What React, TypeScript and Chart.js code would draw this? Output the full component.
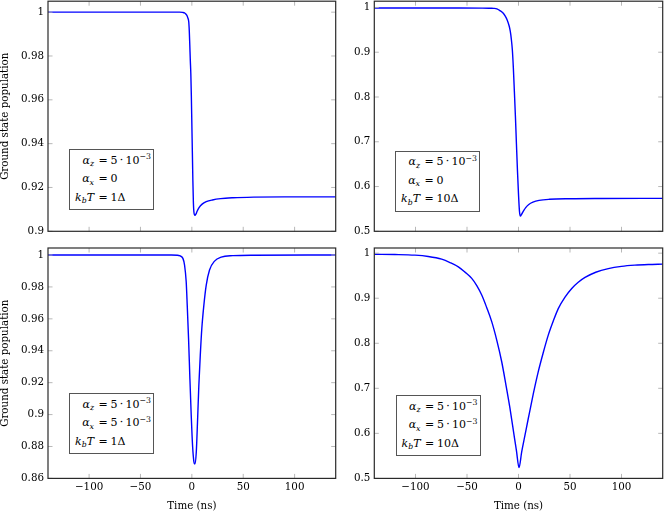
import React, { useEffect, useRef } from "react";
import { Chart, registerables } from "chart.js";

Chart.register(...registerables);

const SERIF = '"DejaVu Serif", "Liberation Serif", "Noto Serif", serif';
const FS = 10.3;

// ---------- data (time in ns, ground state population) ----------
const xTickValues = [-100, -50, 0, 50, 100];

const timeTL = [-140, -60, -20, -12, -9, -7, -5, -4, -3, -2.5, -2, -1.5, -1, -0.5, 0, 0.5, 1, 1.5, 2, 3, 4, 5, 7, 10, 14, 20, 28, 40, 60, 90, 140];
const popTL = [1, 1, 1, 1, 0.9999, 0.9996, 0.9986, 0.9975, 0.9955, 0.9915, 0.985, 0.978, 0.972, 0.962, 0.949, 0.936, 0.923, 0.913, 0.9088, 0.9073, 0.9079, 0.909, 0.9108, 0.9124, 0.9135, 0.9143, 0.9149, 0.9153, 0.9156, 0.9157, 0.9157];
const yTicksTL = [0.9, 0.92, 0.94, 0.96, 0.98, 1];

const timeTR = [-140, -60, -35, -27, -24, -21, -18, -15, -13, -11, -9, -8, -7, -6, -5, -4, -3, -2, -1, 0, 1, 1.8, 3, 5, 7, 10, 14, 20, 30, 50, 80, 140];
const popTR = [0.9988, 0.9988, 0.9986, 0.9982, 0.998, 0.997, 0.993, 0.9875, 0.981, 0.972, 0.958, 0.947, 0.93, 0.906, 0.865, 0.812, 0.757, 0.695, 0.635, 0.583, 0.543, 0.534, 0.538, 0.546, 0.553, 0.56, 0.565, 0.569, 0.5715, 0.5728, 0.5733, 0.5735];
const yTicksTR = [0.5, 0.6, 0.7, 0.8, 0.9, 1];

const timeBL = [-140, -40, -20, -14, -12, -8.7, -7.1, -5.5, -4.5, -3.2, -1.9, -0.6, 0.7, 2.0, 2.9, 4.3, 5.5, 6.8, 8.2, 9.7, 11.7, 14, 17.2, 22.1, 28.6, 40, 60, 140];
const popBL = [1, 1, 1, 0.9999, 0.9996, 0.9979, 0.9937, 0.9832, 0.9686, 0.9476, 0.9225, 0.8994, 0.8805, 0.8704, 0.869, 0.8763, 0.8952, 0.9182, 0.9371, 0.9539, 0.9686, 0.9811, 0.9906, 0.9962, 0.9987, 0.9996, 0.9999, 1];
const yTicksBL = [0.86, 0.88, 0.9, 0.92, 0.94, 0.96, 0.98, 1];

const timeBR = [-140, -120, -100.5, -87.6, -74.6, -66.5, -58.4, -52, -45.4, -40.5, -35.7, -31, -26, -21, -16.3, -12.3, -8.3, -4, -2, 0.5, 3.1, 6.3, 9.5, 14.3, 19.2, 24, 28.9, 33.7, 38.6, 45, 51.7, 58, 64.6, 75, 87.2, 100, 113, 126, 140];
const popBR = [0.9975, 0.997, 0.9956, 0.9927, 0.9867, 0.9792, 0.9696, 0.958, 0.944, 0.928, 0.907, 0.88, 0.848, 0.806, 0.759, 0.709, 0.656, 0.591, 0.5615, 0.524, 0.559, 0.596, 0.633, 0.687, 0.737, 0.779, 0.818, 0.849, 0.877, 0.902, 0.9216, 0.9354, 0.9461, 0.9577, 0.9658, 0.9707, 0.9734, 0.9749, 0.9758];
const yTicksBR = [0.5, 0.6, 0.7, 0.8, 0.9, 1];

// annotation parameters per panel: [TL, TR, BL, BR]
const alphaZBase = ["5\u2009·\u200910", "5\u2009·\u200910", "5\u2009·\u200910", "5\u2009·\u200910"];
const alphaZExp = ["−3", "−3", "−3", "−3"];
const alphaXBase = ["0", "0", "5\u2009·\u200910", "5\u2009·\u200910"];
const alphaXExp = ["", "", "−3", "−3"];
const tempLabels = ["1Δ", "10Δ", "1Δ", "10Δ"];

const xTitle = "Time (ns)";
const yTitle = "Ground state population";

// ---------- drawing helpers ----------
const framePlugin = {
  id: "pgfFrame",
  afterDraw(chart: any) {
    const { ctx, chartArea, scales } = chart;
    const { left, right, top, bottom } = chartArea;
    const len = 4.5;
    ctx.save();
    ctx.strokeStyle = "#b0b0b0";
    ctx.lineWidth = 0.9;
    ctx.beginPath();
    for (const t of scales.x.ticks) {
      const p = scales.x.getPixelForValue(t.value);
      ctx.moveTo(p, bottom);
      ctx.lineTo(p, bottom - len);
      ctx.moveTo(p, top);
      ctx.lineTo(p, top + len);
    }
    for (const t of scales.y.ticks) {
      const p = scales.y.getPixelForValue(t.value);
      ctx.moveTo(left, p);
      ctx.lineTo(left + len, p);
      ctx.moveTo(right, p);
      ctx.lineTo(right - len, p);
    }
    ctx.stroke();
    ctx.strokeStyle = "#2a2a2a";
    ctx.lineWidth = 1.2;
    ctx.strokeRect(left, top, right - left, bottom - top);
    ctx.restore();
  },
};

type Box = { left: number; top: number; width: number; height: number };
type Frame = { left: number; top: number; right: number; bottom: number };

function Panel(props: {
  times: number[];
  pops: number[];
  yTicks: number[];
  yMin: number;
  yMax: number;
  region: Box;
  frame: Frame;
  xLabels: boolean;
  showYTitle: boolean;
}) {
  const ref = useRef<HTMLCanvasElement>(null);
  const { times, pops, yTicks, yMin, yMax, region, frame, xLabels, showYTitle } = props;
  useEffect(() => {
    const padTop = frame.top - region.top;
    const padRight = region.left + region.width - frame.right;
    const yWidth = frame.left - region.left;
    const xHeight = region.top + region.height - frame.bottom;
    const font = { family: SERIF, size: FS };
    const chart = new Chart(ref.current as HTMLCanvasElement, {
      type: "line",
      data: {
        datasets: [
          {
            data: times.map((t, i) => ({ x: t, y: pops[i] })),
            borderColor: "#0000ff",
            borderWidth: 1.4,
            pointRadius: 0,
            cubicInterpolationMode: "monotone",
            fill: false,
          } as any,
        ],
      },
      options: {
        responsive: false,
        animation: false,
        devicePixelRatio: 1,
        events: [],
        layout: { padding: { top: padTop, right: padRight, bottom: 0, left: 0 } },
        plugins: { legend: { display: false }, tooltip: { enabled: false } },
        scales: {
          x: {
            type: "linear",
            min: -140,
            max: 140,
            grid: { display: false, drawTicks: false },
            border: { display: false },
            ticks: {
              display: xLabels,
              autoSkip: false,
              maxRotation: 0,
              padding: 3,
              color: "#000",
              font,
              callback: (v: any) => String(v).replace("-", "−"),
            },
            title: {
              display: xLabels,
              text: xTitle,
              color: "#000",
              font: { family: SERIF, size: FS, lineHeight: 1 },
              padding: { top: 0, bottom: 1.5 },
            },
            afterBuildTicks: (s: any) => {
              s.ticks = xTickValues.map((v) => ({ value: v }));
            },
            afterFit: (s: any) => {
              s.height = xHeight;
              s.paddingLeft = 0;
              s.paddingRight = 0;
              s.paddingTop = 0;
              s.paddingBottom = 0;
            },
          },
          y: {
            type: "linear",
            min: yMin,
            max: yMax,
            grid: { display: false, drawTicks: false },
            border: { display: false },
            ticks: {
              autoSkip: false,
              padding: 4,
              color: "#000",
              font,
              callback: (v: any) => String(Number(v)),
            },
            title: {
              display: showYTitle,
              text: yTitle,
              color: "#000",
              font: { family: SERIF, size: FS, lineHeight: 1 },
              padding: { top: 0, bottom: 0 },
            },
            afterBuildTicks: (s: any) => {
              s.ticks = yTicks.map((v) => ({ value: v }));
            },
            afterFit: (s: any) => {
              s.width = yWidth;
              s.paddingLeft = 0;
              s.paddingRight = 0;
              s.paddingTop = 0;
              s.paddingBottom = 0;
            },
          },
        },
      } as any,
      plugins: [framePlugin],
    });
    return () => chart.destroy();
  }, []);
  return (
    <canvas
      ref={ref}
      width={region.width}
      height={region.height}
      style={{ position: "absolute", left: region.left, top: region.top, width: region.width, height: region.height }}
    />
  );
}

const subStyle: React.CSSProperties = { fontSize: 7.8, fontStyle: "italic", position: "relative", top: 2.5 };
const supStyle: React.CSSProperties = { fontSize: 7.8, position: "relative", top: -4.5 };

function Value({ base, exp }: { base: string; exp: string }) {
  return (
    <>
      {base}
      {exp ? <span style={supStyle}>{exp}</span> : null}
    </>
  );
}

function InfoBox({ left, top, idx }: { left: number; top: number; idx: number }) {
  const W = 85;
  const H = 61;
  const rowCenters = [11.5, 30, 48.5];
  const rows = [
    {
      lhs: (
        <>
          <i>α</i>
          <span style={subStyle}>z</span>
        </>
      ),
      rhs: <Value base={alphaZBase[idx]} exp={alphaZExp[idx]} />,
    },
    {
      lhs: (
        <>
          <i>α</i>
          <span style={subStyle}>x</span>
        </>
      ),
      rhs: <Value base={alphaXBase[idx]} exp={alphaXExp[idx]} />,
    },
    {
      lhs: (
        <>
          <i>k</i>
          <span style={subStyle}>b</span>
          <i>T</i>
        </>
      ),
      rhs: <>{tempLabels[idx]}</>,
    },
  ];
  return (
    <div
      style={{
        position: "absolute",
        left,
        top,
        width: W,
        height: H,
        boxSizing: "border-box",
        border: "1px solid #555",
        background: "#fff",
        fontFamily: SERIF,
        fontSize: 11,
        color: "#000",
      }}
    >
      {rows.map((r, i) => (
        <div
          key={i}
          style={{ position: "absolute", left: 0, top: rowCenters[i] - 10, width: W - 2, height: 18, lineHeight: "18px", whiteSpace: "nowrap" }}
        >
          <span style={{ position: "absolute", right: W - 2 - 24, top: 0 }}>{r.lhs}</span>
          <span style={{ position: "absolute", left: 28.5, top: 0 }}>=</span>
          <span style={{ position: "absolute", left: 40.5, top: 0 }}>{r.rhs}</span>
        </div>
      ))}
    </div>
  );
}

export default function App() {
  return (
    <div style={{ position: "absolute", left: 0, top: 0, width: 664, height: 513, background: "#fff", overflow: "hidden" }}>
      <Panel
        times={timeTL}
        pops={popTL}
        yTicks={yTicksTL}
        yMin={0.9}
        yMax={1.005}
        region={{ left: 0, top: 0, width: 340, height: 240 }}
        frame={{ left: 48, top: 1.2, right: 335.7, bottom: 231.3 }}
        xLabels={false}
        showYTitle={true}
      />
      <Panel
        times={timeTR}
        pops={popTR}
        yTicks={yTicksTR}
        yMin={0.5}
        yMax={1.014}
        region={{ left: 340, top: 0, width: 324, height: 240 }}
        frame={{ left: 374.3, top: 1.2, right: 662.7, bottom: 231.3 }}
        xLabels={false}
        showYTitle={false}
      />
      <Panel
        times={timeBL}
        pops={popBL}
        yTicks={yTicksBL}
        yMin={0.86}
        yMax={1.0044}
        region={{ left: 0, top: 240, width: 340, height: 273 }}
        frame={{ left: 48, top: 248, right: 335.7, bottom: 478.4 }}
        xLabels={true}
        showYTitle={true}
      />
      <Panel
        times={timeBR}
        pops={popBR}
        yTicks={yTicksBR}
        yMin={0.5}
        yMax={1.0115}
        region={{ left: 340, top: 240, width: 324, height: 273 }}
        frame={{ left: 374.3, top: 248, right: 662.7, bottom: 478.4 }}
        xLabels={true}
        showYTitle={false}
      />
      <InfoBox left={69} top={149} idx={0} />
      <InfoBox left={395} top={150.5} idx={1} />
      <InfoBox left={69} top={393} idx={2} />
      <InfoBox left={395.5} top={395} idx={3} />
    </div>
  );
}
